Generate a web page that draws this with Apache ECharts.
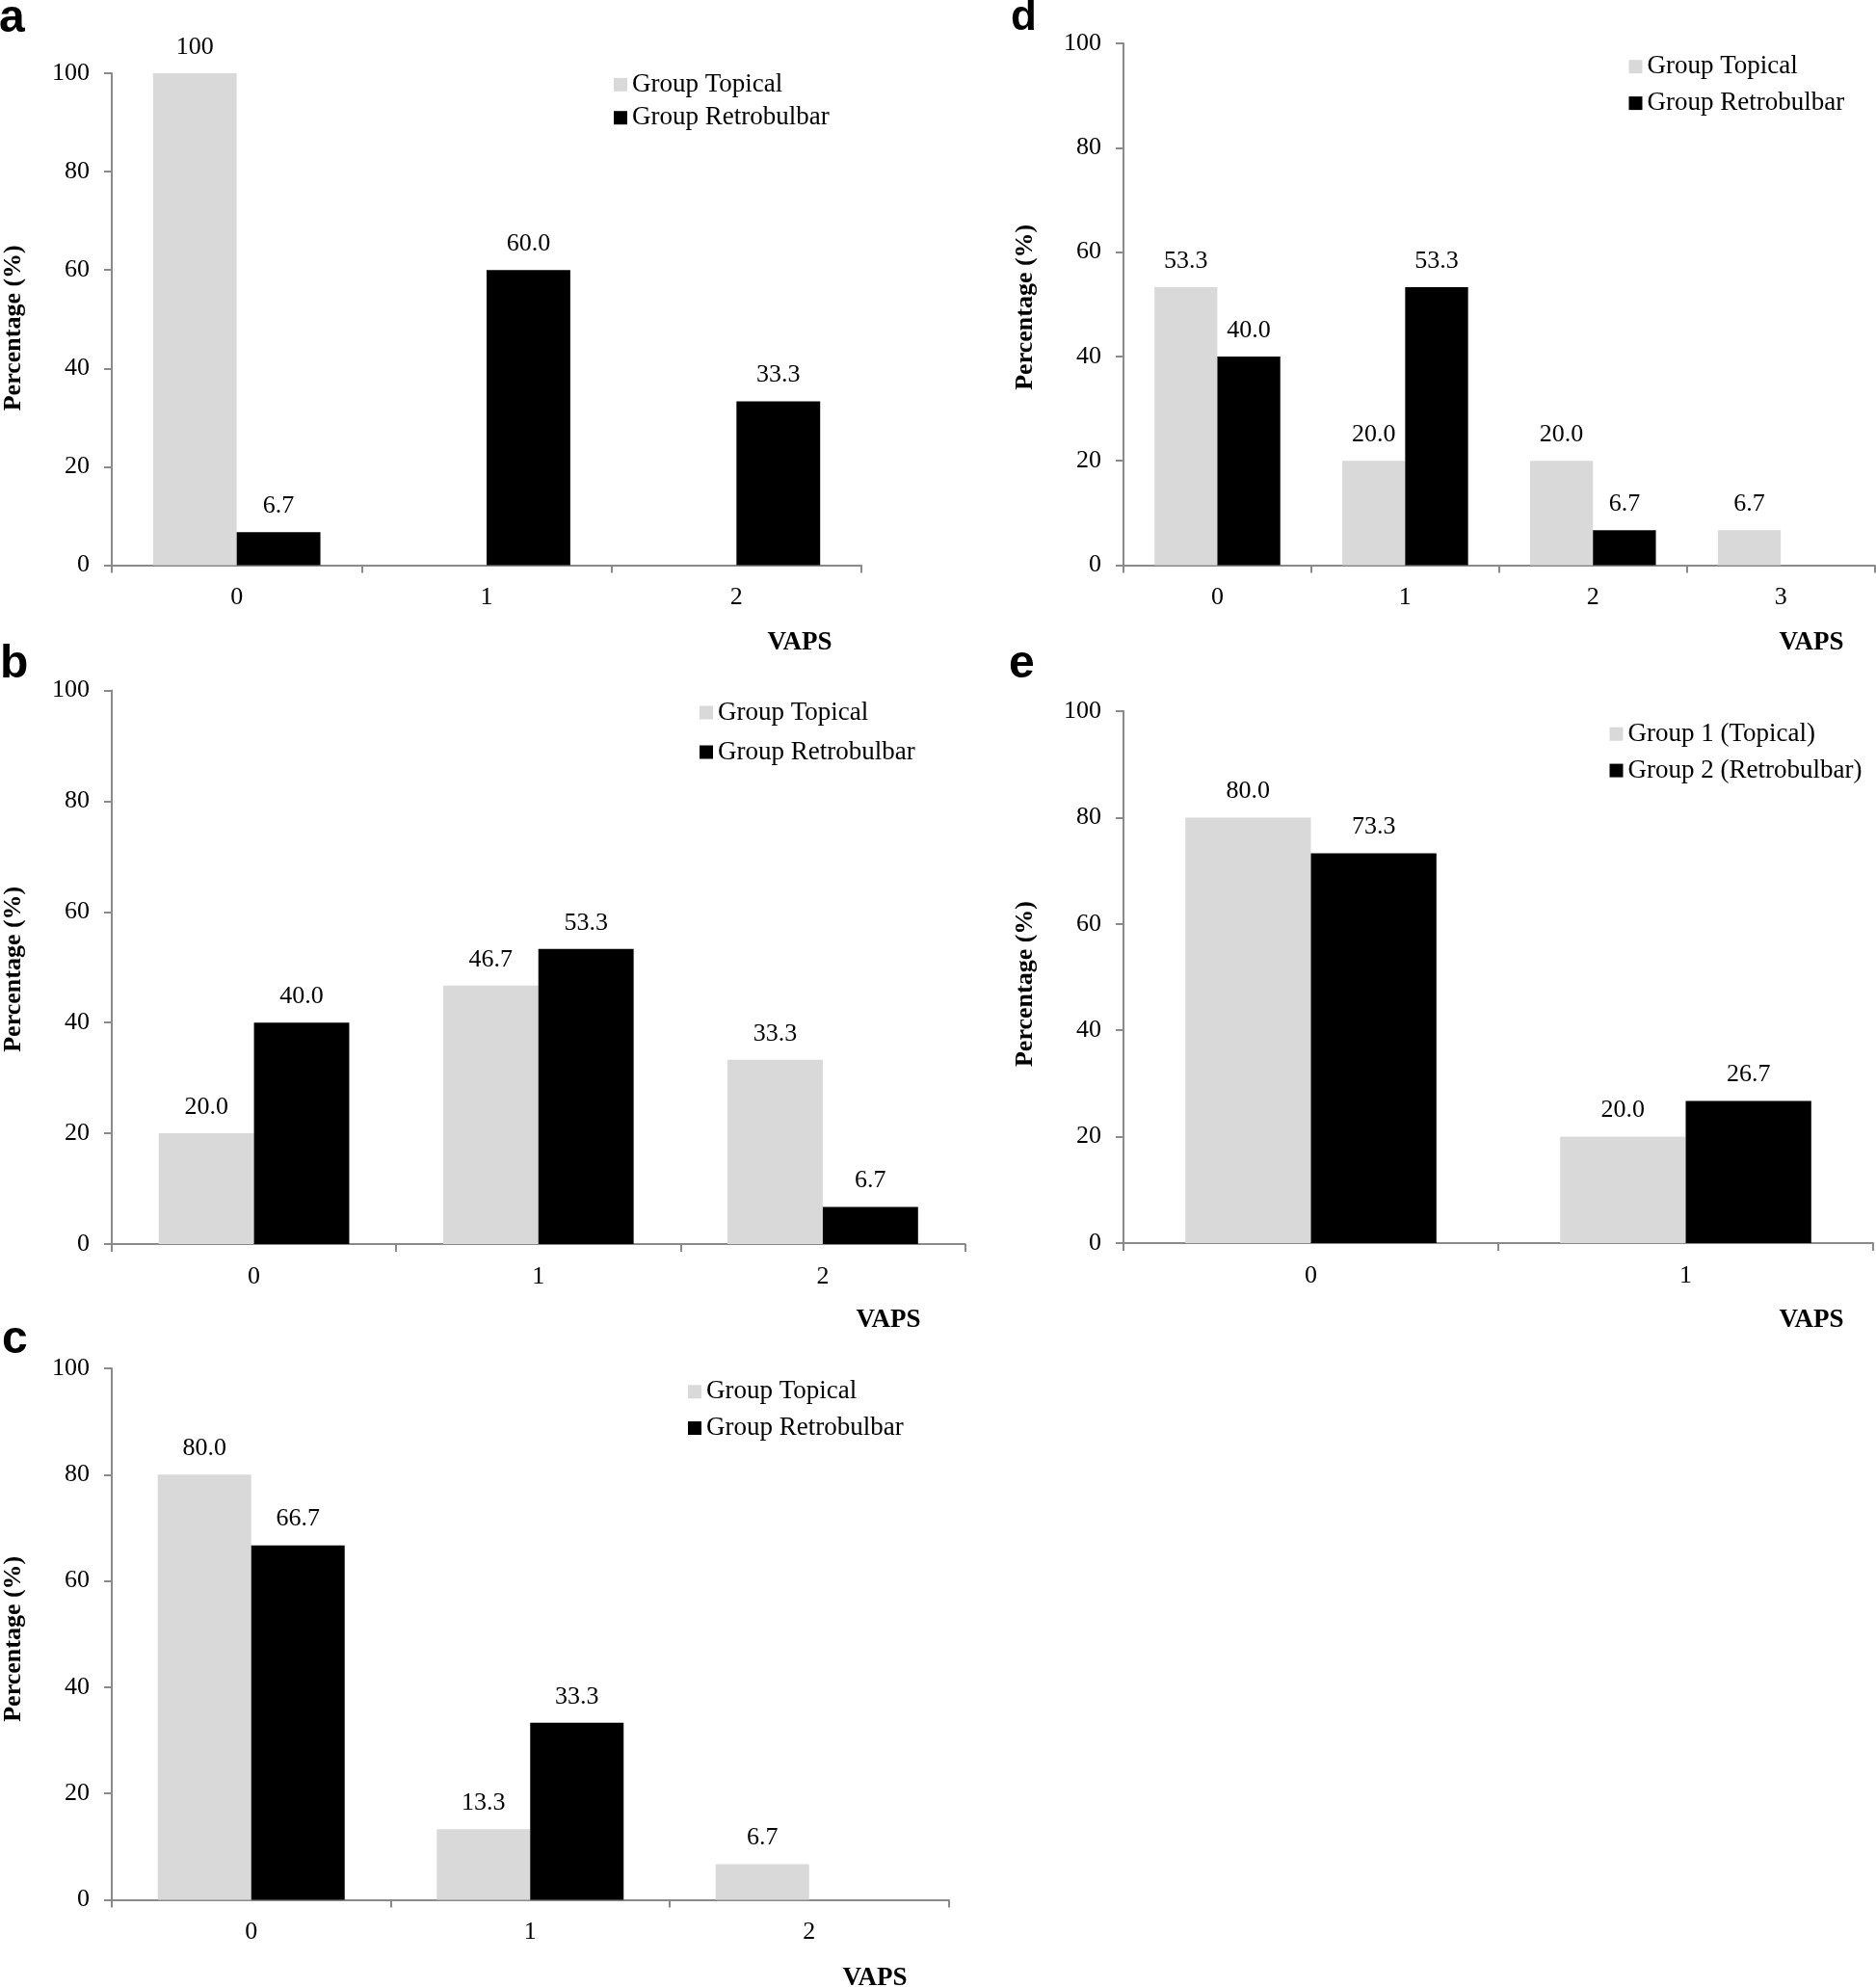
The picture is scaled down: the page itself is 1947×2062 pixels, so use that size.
<!DOCTYPE html>
<html>
<head>
<meta charset="utf-8">
<script src="https://cdn.jsdelivr.net/npm/echarts@6/dist/echarts.min.js"></script>
<style>
html, body { margin: 0; padding: 0; background: #ffffff; }
#chart { width: 1947px; height: 2062px; }
</style>
</head>
<body>
<div id="chart"></div>
<script>
// ---------------- data ----------------
const yTicks = [0, 20, 40, 60, 80, 100];

const catsA = ['0', '1', '2'];
const topicalA = [100, null, null];
const retroA = [6.7, 60.0, 33.3];

const catsB = ['0', '1', '2'];
const topicalB = [20.0, 46.7, 33.3];
const retroB = [40.0, 53.3, 6.7];

const catsC = ['0', '1', '2'];
const topicalC = [80.0, 13.3, 6.7];
const retroC = [66.7, 33.3, null];

const catsD = ['0', '1', '2', '3'];
const topicalD = [53.3, 20.0, 20.0, 6.7];
const retroD = [40.0, 53.3, 6.7, null];

const catsE = ['0', '1'];
const topicalE = [80.0, 20.0];
const retroE = [73.3, 26.7];

const namesABCD = ['Group Topical', 'Group Retrobulbar'];
const namesE = ['Group 1 (Topical)', 'Group 2 (Retrobulbar)'];
const panelLetters = ['a', 'b', 'c', 'd', 'e'];
const xAxisTitle = 'VAPS';
const yAxisTitle = 'Percentage (%)';

// ---------------- styling / layout ----------------
const SERIF = '"Liberation Serif", "Times New Roman", Times, serif';
const SANS = '"Liberation Sans", Arial, Helvetica, sans-serif';
const LIGHT = '#d9d9d9';
const DARK = '#000000';
const AXIS = '#8a8a8a';

const panels = [
  { cats: catsA, t: topicalA, r: retroA, names: namesABCD,
    grid: { left: 114, top: 76, width: 780, height: 510.5 },
    legend: { left: 637, top: 74.3, gap: 7.4 },
    vaps: [830, 667], letter: [-1, 20], titleShift: 9 },
  { cats: catsB, t: topicalB, r: retroB, names: namesABCD,
    grid: { left: 113.5, top: 716.5, width: 888, height: 574.5 },
    legend: { left: 726, top: 726, gap: 14 },
    vaps: [922, 1370], letter: [0, 690], titleShift: 2 },
  { cats: catsC, t: topicalC, r: retroC, names: namesABCD,
    grid: { left: 113.5, top: 1420, width: 871, height: 551.5 },
    legend: { left: 714, top: 1430.8, gap: 10.7 },
    vaps: [908, 2053], letter: [2, 1391], titleShift: 5 },
  { cats: catsD, t: topicalD, r: retroD, names: namesABCD,
    grid: { left: 1166, top: 45, width: 779.6, height: 541.5 },
    legend: { left: 1690.5, top: 55.7, gap: 10.9 },
    vaps: [1880, 667], letter: [1049, 19], titleShift: 3 },
  { cats: catsE, t: topicalE, r: retroE, names: namesE,
    grid: { left: 1166, top: 738, width: 778, height: 552 },
    legend: { left: 1670.5, top: 748.2, gap: 10.9 },
    vaps: [1880, 1370], letter: [1047, 690], titleShift: 7 }
];

function fmt(p) {
  const v = p.value;
  return v === 100 ? '100' : Number(v).toFixed(1);
}

const grids = [], xAxes = [], yAxes = [], series = [], legends = [], graphics = [];

panels.forEach(function (P, i) {
  grids.push(Object.assign({ containLabel: false }, P.grid));
  xAxes.push({
    type: 'category', gridIndex: i, data: P.cats,
    axisLine: { show: true, lineStyle: { color: AXIS, width: 2 } },
    axisTick: { show: true, length: 8, inside: false, lineStyle: { color: AXIS, width: 2 } },
    axisLabel: { margin: 21, color: '#000', fontFamily: SERIF, fontSize: 26 },
    splitLine: { show: false }
  });
  yAxes.push({
    type: 'value', gridIndex: i, min: yTicks[0], max: yTicks[yTicks.length - 1], interval: yTicks[1] - yTicks[0],
    name: yAxisTitle, nameLocation: 'middle', nameRotate: 90, nameGap: 89,
    nameTextStyle: { fontFamily: SERIF, fontSize: 26, fontWeight: 'bold', color: '#000',
      padding: [0, 2 * P.titleShift, 0, 0] },
    axisLine: { show: true, lineStyle: { color: AXIS, width: 2 } },
    axisTick: { show: true, length: 8, inside: false, lineStyle: { color: AXIS, width: 2 } },
    axisLabel: { margin: 23, color: '#000', fontFamily: SERIF, fontSize: 26 },
    splitLine: { show: false }
  });
  const lbl = { show: true, position: 'top', distance: 14, color: '#000', fontFamily: SERIF, fontSize: 26, formatter: fmt };
  series.push({
    type: 'bar', name: P.names[0], xAxisIndex: i, yAxisIndex: i, data: P.t,
    itemStyle: { color: LIGHT }, barGap: '0%', barCategoryGap: '33%', label: lbl
  });
  series.push({
    type: 'bar', name: P.names[1], xAxisIndex: i, yAxisIndex: i, data: P.r,
    itemStyle: { color: DARK }, barGap: '0%', barCategoryGap: '33%', label: lbl
  });
  legends.push({
    data: P.names, orient: 'vertical', left: P.legend.left, top: P.legend.top,
    itemGap: P.legend.gap, itemWidth: 14, itemHeight: 14, icon: 'rect', padding: 0,
    selectedMode: false,
    textStyle: { fontFamily: SERIF, fontSize: 27, color: '#000' }
  });
  graphics.push({
    type: 'text', x: P.vaps[0], y: P.vaps[1],
    style: { text: xAxisTitle, fill: '#000', font: 'bold 27px ' + SERIF, textAlign: 'center', textVerticalAlign: 'middle' }
  });
  graphics.push({
    type: 'text', x: P.letter[0], y: P.letter[1],
    style: { text: panelLetters[i], fill: '#000', font: 'bold ' + (i === 3 ? 44 : 48) + 'px ' + SANS, textAlign: 'left', textVerticalAlign: 'middle' }
  });
});

const chart = echarts.init(document.getElementById('chart'), null, { renderer: 'canvas' });
chart.setOption({
  backgroundColor: '#ffffff',
  animation: false,
  grid: grids,
  xAxis: xAxes,
  yAxis: yAxes,
  legend: legends,
  series: series,
  graphic: graphics
});
</script>
</body>
</html>
